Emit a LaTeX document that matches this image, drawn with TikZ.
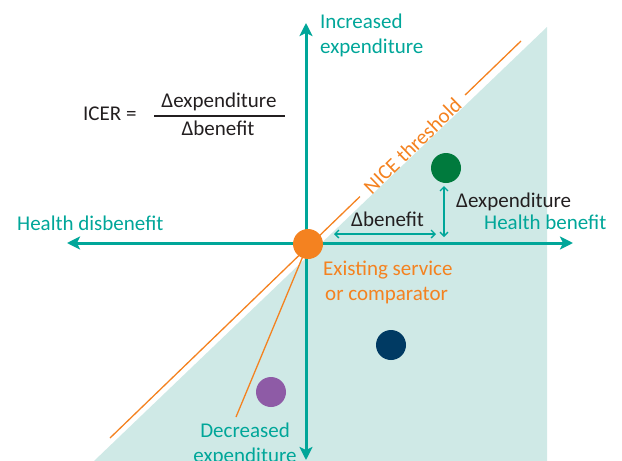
\documentclass[tikz,border=0pt]{standalone}
\usepackage{fontspec}
\setmainfont{Carlito}
\usetikzlibrary{arrows.meta,calc}
\definecolor{tealx}{RGB}{0,166,153}
\definecolor{shadex}{RGB}{207,233,230}
\definecolor{orng}{RGB}{244,130,32}
\definecolor{grn}{RGB}{0,122,61}
\definecolor{navyx}{RGB}{0,58,99}
\definecolor{purp}{RGB}{142,91,166}
\definecolor{ink}{RGB}{35,31,32}
\begin{document}
\begin{tikzpicture}[x=1pt,y=-1pt,
  font=\fontsize{21}{25}\selectfont,
  axis/.style={draw=tealx, line width=3pt,
    {Stealth[length=13pt,width=13pt,inset=3pt]}-{Stealth[length=13pt,width=13pt,inset=3pt]}},
  dot/.style={circle, minimum size=30pt, inner sep=0pt},
  lbl/.style={inner sep=0pt, text=tealx},
  inklbl/.style={inner sep=0pt, text=ink},
  dimarrow/.style={draw=tealx, line width=1.3pt,
    {Straight Barb[length=4pt,width=8pt]}-{Straight Barb[length=4pt,width=8pt]}},
  thr/.style={draw=orng, line width=1.3pt}]
\useasboundingbox (0,0) rectangle (622,461);
\clip (0,0) rectangle (622,461);
% shaded acceptable region
\fill[shadex] (94,461) -- (547,27) -- (547,461) -- cycle;
% threshold line
\coordinate (thrA) at (110,438);
\coordinate (thrB) at (521,41);
\draw[thr] (thrA) -- ($(thrA)!0.608!(thrB)$) ($(thrA)!0.864!(thrB)$) -- (thrB);
\path (thrA) -- (thrB) node[pos=0.736, sloped, text=orng, inner sep=0pt] {NICE threshold};
% axes
\coordinate (top) at (306,23);
\coordinate (bot) at (306,460);
\coordinate (left) at (67,243);
\coordinate (right) at (573,243);
\draw[axis] (bot) -- (top);
\draw[axis] (left) -- (right);
% comparator and pointer
\coordinate (dp) at (236,417);
\coordinate (oc) at (308,244);
\draw[thr] (oc) -- (dp);
\node[dot, fill=orng] (O) at (oc) {};
% other points
\node[dot, fill=grn] (G) at (446,168) {};
\node[dot, fill=navyx] (N) at (391,345) {};
\node[dot, fill=purp] (P) at (271,392) {};
% delta arrows
\coordinate (b1) at (334,234);
\coordinate (b2) at (436,234);
\coordinate (e1) at (444,186);
\coordinate (e2) at (444,237);
\draw[dimarrow] (b1) -- (b2);
\draw[dimarrow] (e1) -- (e2);
% labels
\node[lbl, anchor=base west, align=left] (inc) at (320,53) {Increased\\expenditure};
\node[lbl, anchor=base west] (hd) at (17,230) {Health disbenefit};
\node[lbl, anchor=base west] (hb) at (484,229) {Health benefit};
\node[inklbl, anchor=base west] (db) at (351,226) {Δbenefit};
\node[inklbl, anchor=base west] (de) at (456,207) {Δexpenditure};
\node[inner sep=0pt, text=orng, anchor=base west, align=left] (ex) at (323,300) {Existing service\\\hspace{2pt}or comparator};
\node[lbl, anchor=base, align=center] (dec) at (245,462) {Decreased\\expenditure};
% ICER formula
\node[inklbl, anchor=base west] (icer) at (83,120) {ICER =};
\node[inklbl, anchor=base] (num) at (219,107) {Δexpenditure};
\node[inklbl, anchor=base] (den) at (218,135) {Δbenefit};
\draw[ink, line width=1.8pt] (154,116) -- (285,116);
\end{tikzpicture}
\end{document}
